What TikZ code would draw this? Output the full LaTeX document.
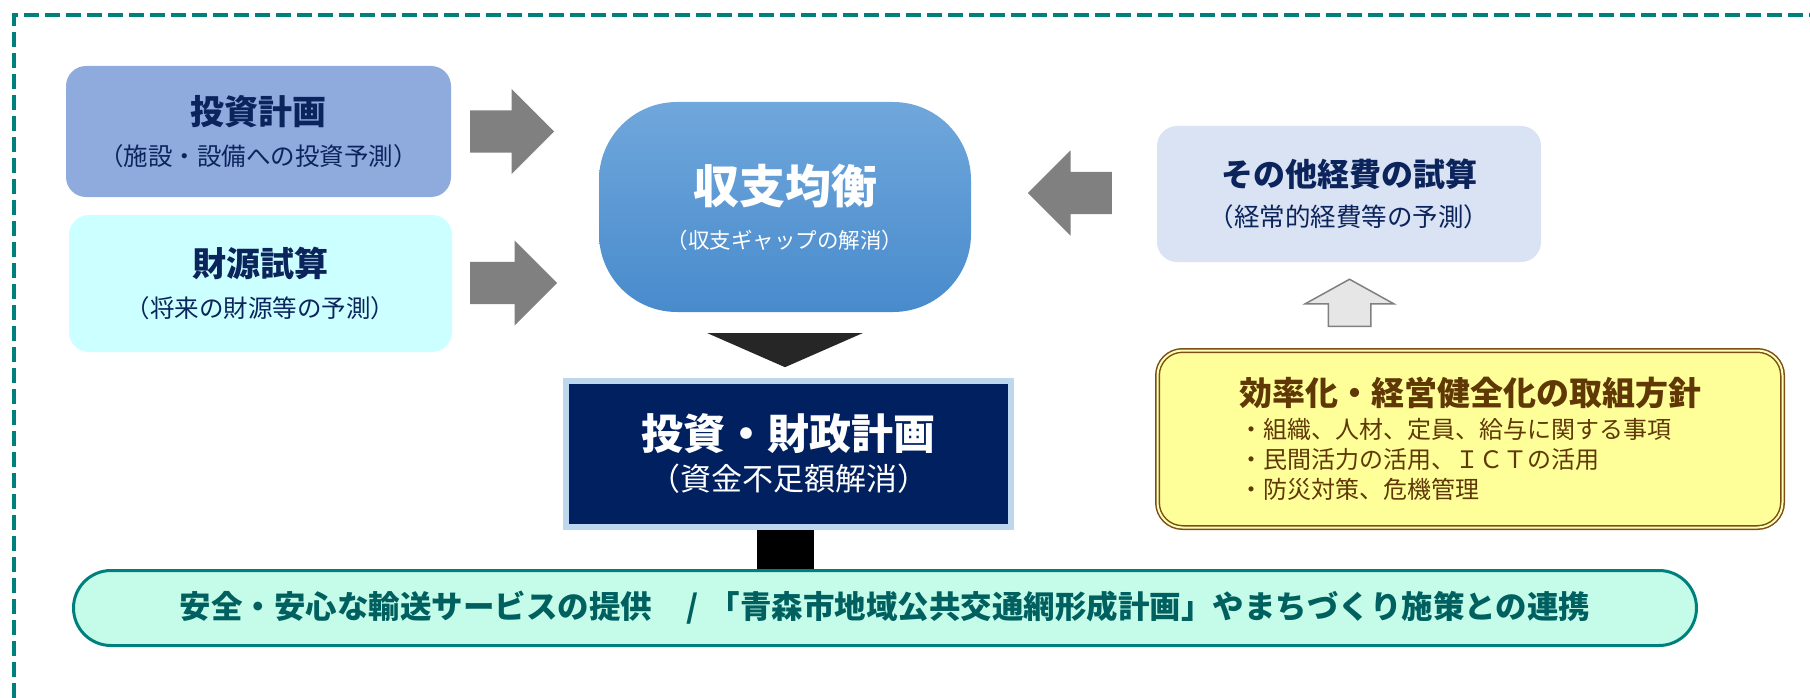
\documentclass[tikz,border=0pt]{standalone}
\usepackage{fontspec}
\setmainfont{Noto Sans CJK JP}
\usepackage{xcolor}
\definecolor{frameteal}{RGB}{0,128,124}
\definecolor{investblue}{RGB}{143,170,220}
\definecolor{fundcyan}{RGB}{204,255,255}
\definecolor{titlenavy}{RGB}{12,36,92}
\definecolor{arrowgray}{RGB}{128,128,128}
\definecolor{baltop}{RGB}{112,167,220}
\definecolor{balbottom}{RGB}{72,139,204}
\definecolor{tridark}{RGB}{38,38,38}
\definecolor{plannavy}{RGB}{0,32,96}
\definecolor{planedge}{RGB}{189,215,238}
\definecolor{otherblue}{RGB}{218,227,243}
\definecolor{hollowgray}{RGB}{231,230,230}
\definecolor{policyyellow}{RGB}{255,255,153}
\definecolor{policybrown}{RGB}{122,78,22}
\definecolor{policytext}{RGB}{96,56,6}
\definecolor{goalmint}{RGB}{197,252,233}
\definecolor{goaltext}{RGB}{0,96,96}
\usepackage{tikz}
\usetikzlibrary{shapes.arrows}
\newcommand{\fsz}[1]{\fontsize{#1}{#1}\selectfont}
\tikzstyle{estimate} = [rounded corners=20pt, align=center, text=titlenavy,
  inner sep=0pt, font=\fontsize{24.5}{41}\selectfont]
\tikzstyle{balance} = [rounded corners=78pt, top color=baltop, bottom color=balbottom,
  text=white, align=center, inner sep=0pt, minimum width=372pt, minimum height=210pt,
  font=\fontsize{21.5}{45}\selectfont]
\tikzstyle{finplan} = [fill=plannavy, draw=planedge, line width=6pt, text=white,
  align=center, inner sep=0pt, minimum width=445pt, minimum height=146pt,
  font=\fontsize{31}{41}\selectfont]
\tikzstyle{policy} = [rounded corners=25pt, fill=policyyellow, draw=policybrown,
  line width=1.5pt, double=policyyellow!70!white, double distance=2pt,
  text=policytext, align=left, inner sep=0pt, minimum width=625pt,
  minimum height=177pt, font=\fontsize{24}{30}\selectfont]
\tikzstyle{goal} = [rounded corners=37.5pt, fill=goalmint, draw=frameteal,
  line width=3pt, text=goaltext, inner sep=0pt, minimum width=1623pt,
  minimum height=75pt, font=\fontsize{31.5}{31.5}\selectfont\bfseries]
\tikzstyle{bigarrow} = [single arrow, fill=arrowgray, inner xsep=0pt, inner ysep=21pt,
  minimum width=0pt, minimum height=84pt, single arrow head extend=21.5pt,
  anchor=tail]
\tikzstyle{hollowarrow} = [single arrow, fill=hollowgray, draw=arrowgray,
  line width=1.5pt, inner xsep=0pt, inner ysep=20.5pt, minimum width=0pt,
  minimum height=47pt, single arrow head extend=23pt, single arrow tip angle=122,
  anchor=tail]
\tikzstyle{frame} = [draw=frameteal, line width=4pt, dash pattern=on 15pt off 6pt]

\begin{document}
\begin{tikzpicture}[x=1pt, y=-1pt]
  \useasboundingbox (0,0) rectangle (1810,698);
  \draw[frame] (14,698) -- (14,15) -- (1810,15);

  \node[estimate, fill=investblue, minimum width=385pt, minimum height=131pt]
    (invest) at (258.5,131.5) {{\fsz{34}\bfseries 投資計画}\\（施設・設備への投資予測）};
  \node[estimate, fill=fundcyan, minimum width=383pt, minimum height=137pt]
    (funds) at (260.5,283.5) {{\fsz{34}\bfseries 財源試算}\\（将来の財源等の予測）};
  \node[balance] (bal) at (785,207) {{\fsz{46}\bfseries 収支均衡}\\（収支ギャップの解消）};
  \node[estimate, fill=otherblue, minimum width=384pt, minimum height=136pt,
    font=\fontsize{25.5}{40}\selectfont]
    (other) at (1349,194) {{\fsz{32}\bfseries その他経費の試算}\\（経常的経費等の予測）};
  \node[finplan] (plan) at (788.5,454) {{\fsz{42}\bfseries 投資・財政計画}\\（資金不足額解消）};
  \node[policy] (policy) at (1470,439) {{\fsz{33}\bfseries 効率化・経営健全化の取組方針}\\[3pt]
    ・組織、人材、定員、給与に関する事項\\・民間活力の活用、ＩＣＴの活用\\・防災対策、危機管理};
  \node[goal] (goal) at (885,608) {安全・安心な輸送サービスの提供\hspace{1.1em}/\hspace{0.3em}「青森市地域公共交通網形成計画」やまちづくり施策との連携};

  % block arrows
  \node[bigarrow] (investarrow) at (470,131.5) {};
  \node[bigarrow, minimum height=87pt] (fundsarrow) at (470,283) {};
  \node[bigarrow, rotate=180] (otherarrow) at (1112,193) {};
  \node[hollowarrow, rotate=90] (policyarrow) at (1349.5,327) {};

  \fill[tridark] (bal.south) ++(-77.5,21) -- ++(155,0) -- ++(-77.5,34) -- cycle;
  \draw[line width=57pt] (bal.south |- plan.south) -- (bal.south |- goal.north);
\end{tikzpicture}
\end{document}
